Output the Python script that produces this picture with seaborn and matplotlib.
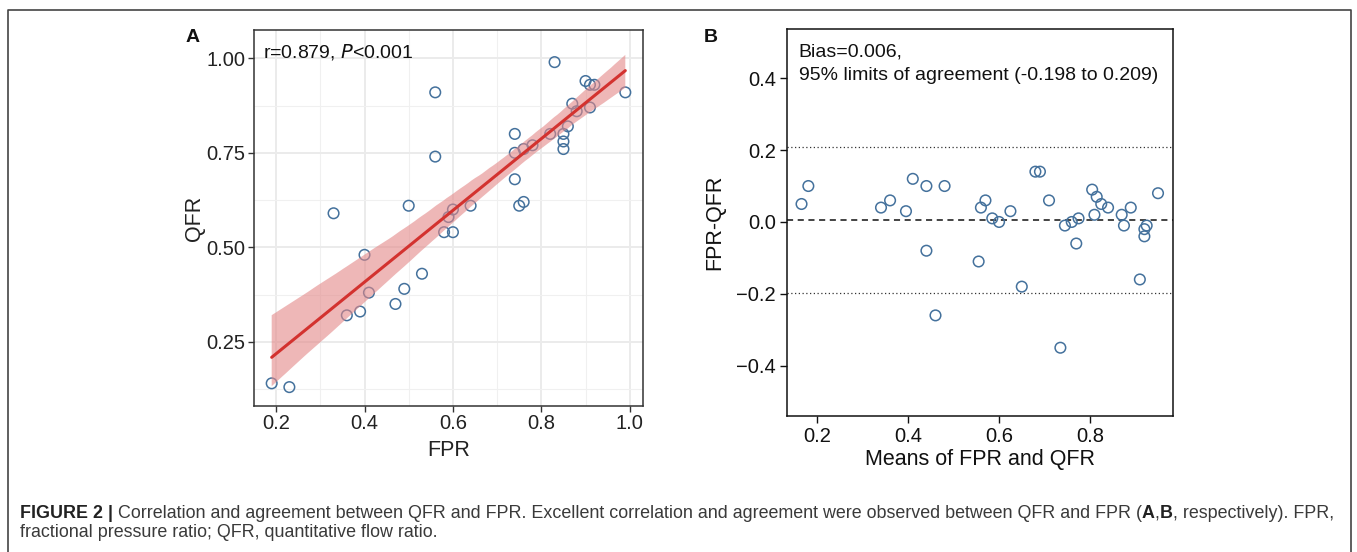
import numpy as np
import pandas as pd
import matplotlib
matplotlib.use("Agg")
import matplotlib.pyplot as plt
import seaborn as sns
from matplotlib.ticker import MultipleLocator, FixedLocator

# ---- data ----
fpr = [0.83, 0.56, 0.90, 0.91, 0.92, 0.99, 0.87, 0.91, 0.88, 0.86,
       0.82, 0.85, 0.85, 0.85, 0.74, 0.74, 0.76, 0.78, 0.56, 0.74,
       0.75, 0.76, 0.64, 0.50, 0.33, 0.60, 0.59, 0.58, 0.60, 0.40,
       0.53, 0.49, 0.41, 0.47, 0.39, 0.36, 0.19, 0.23]
qfr = [0.99, 0.91, 0.94, 0.93, 0.93, 0.91, 0.88, 0.87, 0.86, 0.82,
       0.80, 0.80, 0.78, 0.76, 0.80, 0.75, 0.76, 0.77, 0.74, 0.68,
       0.61, 0.62, 0.61, 0.61, 0.59, 0.60, 0.58, 0.54, 0.54, 0.48,
       0.43, 0.39, 0.38, 0.35, 0.33, 0.32, 0.14, 0.13]
bias = 0.006
loa_low = -0.198
loa_high = 0.209
a_xticks = [0.2, 0.4, 0.6, 0.8, 1.0]
a_yticks = [0.25, 0.50, 0.75, 1.00]
b_xticks = [0.2, 0.4, 0.6, 0.8]
b_yticks = [-0.4, -0.2, 0.0, 0.2, 0.4]

df = pd.DataFrame({"FPR": fpr, "QFR": qfr})
df["mean"] = (df["FPR"] + df["QFR"]) / 2
df["diff"] = df["FPR"] - df["QFR"]

sns.set_style("white")
plt.rcParams["font.family"] = ["Liberation Sans", "DejaVu Sans"]

W, H = 1357, 552
fig = plt.figure(figsize=(W / 100, H / 100), dpi=100)

def ax_rect(l, t, r, b):
    return [l / W, 1 - b / H, (r - l) / W, (b - t) / H]

pt_col = "#44719c"
tick_col = "#222222"

# ---------------- Panel A ----------------
axA = fig.add_axes(ax_rect(254, 30, 643, 406))
axA.set_facecolor("white")
sns.scatterplot(data=df, x="FPR", y="QFR", ax=axA, marker="o", s=58,
                facecolor="none", edgecolor=pt_col, linewidth=1.1, zorder=2)
sns.regplot(data=df, x="FPR", y="QFR", ax=axA, scatter=False, ci=95, seed=0,
            color="#d3322f", line_kws={"linewidth": 2.2, "zorder": 4})
for coll in axA.collections:
    if isinstance(coll, matplotlib.collections.PolyCollection):
        coll.set_facecolor("#e38888")
        coll.set_alpha(0.6)
        coll.set_edgecolor("none")
        coll.set_zorder(3)
axA.set_xlim(0.15, 1.03)
axA.set_ylim(0.08, 1.075)
axA.xaxis.set_major_locator(FixedLocator(a_xticks))
axA.yaxis.set_major_locator(FixedLocator(a_yticks))
axA.xaxis.set_minor_locator(MultipleLocator(0.1))
axA.yaxis.set_minor_locator(MultipleLocator(0.125))
axA.set_xticklabels([f"{v:.1f}" for v in a_xticks])
axA.set_yticklabels([f"{v:.2f}" for v in a_yticks])
axA.grid(which="major", color="#ebebeb", linewidth=1.4, zorder=0)
axA.grid(which="minor", color="#f0f0f0", linewidth=0.8, zorder=0)
axA.set_axisbelow(True)
axA.tick_params(axis="both", which="major", direction="out", length=4, width=1.0,
                color="#333333", labelsize=14.5, labelcolor=tick_col, pad=2,
                bottom=True, left=True)
axA.tick_params(axis="both", which="minor", length=0)
for sp in axA.spines.values():
    sp.set_color("#333333")
    sp.set_linewidth(1.1)
axA.set_xlabel("FPR", fontsize=15.5, color=tick_col, labelpad=5)
axA.set_ylabel("QFR", fontsize=15.5, color=tick_col, labelpad=1)
axA.text(0.022, 0.968, r"r=0.879, $\it{P}$<0.001", transform=axA.transAxes,
         ha="left", va="top", fontsize=14, color="#111111")
fig.text(193 / W, 1 - 37 / H, "A", fontsize=14, fontweight="bold",
         ha="center", va="center", color="#111111")

# ---------------- Panel B ----------------
axB = fig.add_axes(ax_rect(787, 29, 1173, 416))
axB.set_facecolor("white")
sns.scatterplot(data=df, x="mean", y="diff", ax=axB, marker="o", s=58,
                facecolor="none", edgecolor=pt_col, linewidth=1.1, zorder=3)
axB.axhline(bias, color="#111111", linestyle=(0, (4, 3)), linewidth=1.1, zorder=2)
axB.axhline(loa_low, color="#333333", linestyle=(0, (1, 2)), linewidth=0.9, zorder=2)
axB.axhline(loa_high, color="#333333", linestyle=(0, (1, 2)), linewidth=0.9, zorder=2)
axB.set_xlim(0.133, 0.983)
axB.set_ylim(-0.54, 0.537)
axB.xaxis.set_major_locator(FixedLocator(b_xticks))
axB.yaxis.set_major_locator(FixedLocator(b_yticks))
axB.set_xticklabels([f"{v:.1f}" for v in b_xticks])
axB.set_yticklabels([f"{v:.1f}".replace("-", "\u2212") for v in b_yticks])
axB.tick_params(axis="both", direction="out", length=5, width=1.0,
                color="#111111", labelsize=14.5, labelcolor="#111111", pad=3,
                bottom=True, left=True)
for sp in axB.spines.values():
    sp.set_color("#111111")
    sp.set_linewidth(1.1)
axB.set_xlabel("Means of FPR and QFR", fontsize=15.5, color="#111111", labelpad=2)
axB.set_ylabel("FPR-QFR", fontsize=15.5, color="#111111", labelpad=7.8)
axB.text(0.03, 0.962, "Bias=0.006,\n95% limits of agreement (-0.198 to 0.209)",
         transform=axB.transAxes, ha="left", va="top", fontsize=14,
         color="#111111", linespacing=1.45)
fig.text(711 / W, 1 - 38 / H, "B", fontsize=14, fontweight="bold",
         ha="center", va="center", color="#111111")

# ---------------- frame & caption ----------------
frame = plt.Line2D([8 / W, 8 / W, 1351 / W, 1351 / W], [0, 1 - 10 / H, 1 - 10 / H, 0],
                   transform=fig.transFigure, color="#444444", linewidth=1.2)
fig.add_artist(frame)

cap_size = 12.85
cap_col = "#3a3a3a"
pieces = [("FIGURE 2 | ", "bold", "#222222"),
          ("Correlation and agreement between QFR and FPR. Excellent correlation and "
           "agreement were observed between QFR and FPR (", "normal", cap_col),
          ("A", "bold", "#222222"), (",", "normal", cap_col), ("B", "bold", "#222222"),
          (", respectively). FPR,", "normal", cap_col)]
renderer = fig.canvas.get_renderer()
x = 20.0
for txt, wt, col in pieces:
    t = fig.text(x / W, 1 - 514 / H, txt, fontsize=cap_size, fontweight=wt,
                 color=col, ha="left", va="center")
    bb = t.get_window_extent(renderer=renderer)
    x += bb.width
fig.text(20 / W, 1 - 532.5 / H, "fractional pressure ratio; QFR, quantitative flow ratio.",
         fontsize=cap_size, color=cap_col, ha="left", va="center")

fig.savefig("out.png", dpi=100, facecolor="white")
